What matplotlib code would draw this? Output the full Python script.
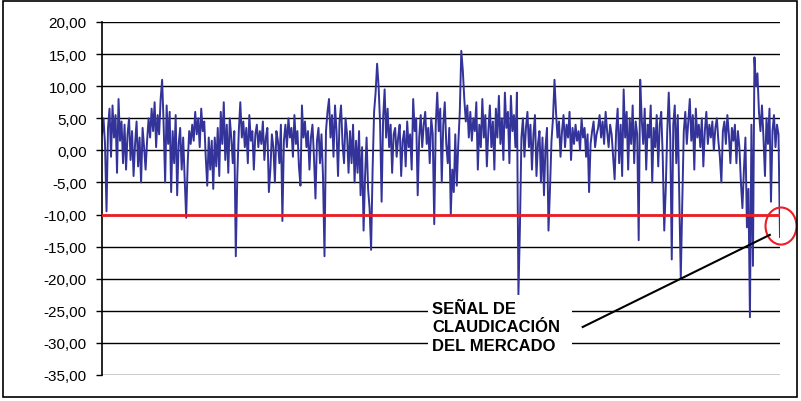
import numpy as np
import matplotlib
matplotlib.use('Agg')
import matplotlib.pyplot as plt
from matplotlib.patches import Ellipse, Rectangle

plt.rcParams['font.family'] = ['Liberation Sans', 'DejaVu Sans']

# serie (aprox. 1,5 px por punto)
serie = [
    2.5, 5.0, 1.0, -9.5, 3.5, 6.5, -1.0, 7.0, 2.0, 5.5, -3.5, 8.0, 1.5, 4.5, -2.0,
    4.0, -3.0, 2.5, 5.0, -1.5, 3.0, -4.0, 1.0, 4.5, -2.5, 2.0, -5.0, 3.5, 0.5, -3.0,
    1.5, 5.0, 2.0, 6.5, 3.0, 7.5, 0.5, 5.5, 2.5, 8.0, 11.0, 4.0, -5.0, 7.0, 1.0,
    6.0, -6.5, 3.0, -2.0, 5.5, -7.0, 1.0, 3.5, -3.0, 2.0, -4.5, -10.5, -2.0, 3.0, 1.0,
    4.0, 1.5, 6.0, 2.5, 5.0, 0.5, 6.5, 3.0, 4.5, -1.0, -5.5, 2.0, -3.0, 1.5, -6.0,
    2.0, -2.5, 3.5, -4.0, 6.0, 1.0, 7.5, -1.5, 4.0, -3.5, 5.0, 2.0, -2.0, 3.0, -16.5,
    -4.0, 3.0, 7.5, 2.0, 4.5, 0.5, 3.5, -2.0, 5.5, 1.5, 3.0, -3.0, 2.5, 4.0, 0.5,
    3.0, 1.0, 4.5, -1.5, 2.0, 3.5, -6.5, -3.0, 2.5, 0.5, -5.0, 3.0, 1.5, -2.0, 4.0,
    -11.0, 1.5, 4.0, 0.5, 5.0, 2.0, 3.5, -1.0, 5.5, 1.0, 3.0, -2.5, -5.5, 7.0, 2.0,
    4.5, 0.5, 3.0, -3.0, 2.0, 4.0, -1.0, -7.5, 1.5, 3.5, -2.0, 2.5, -4.0, -16.5, 3.0,
    6.0, 8.0, 2.0, 5.5, -1.0, 7.0, 3.0, -4.0, 4.5, 7.0, 1.0, -2.0, 5.0, 2.5, -3.5,
    3.0, -2.0, 4.0, -5.0, 1.5, -3.5, 3.0, -7.0, 0.5, -12.5, -4.0, 2.0, -6.0, -9.0, -15.5,
    -3.0, 6.0, 9.0, 13.5, 10.0, 4.0, -8.0, 5.0, 9.5, 2.0, 6.5, 0.5, 4.0, -3.5, 2.5,
    3.5, -1.0, 2.0, 4.0, -4.0, 1.5, 3.0, -2.5, 4.5, 0.5, 2.5, -3.0, 8.0, 3.0, 5.0,
    -7.0, 2.0, 5.5, 0.5, 4.0, 6.0, 1.0, 3.5, -2.0, 5.0, 2.5, -11.5, 4.0, 9.0, 3.0,
    6.5, -5.0, 4.0, 7.5, 1.0, -2.0, 3.5, -10.0, -3.0, -6.5, 2.5, -5.5, 1.0, 6.0, 15.5,
    12.5, 8.0, 4.5, 7.0, 2.0, 6.0, 1.5, 5.0, 3.0, 7.5, -3.0, 4.0, 0.5, 8.0, 2.0,
    5.5, -2.5, 3.0, 7.0, 0.5, 4.5, -3.0, 6.5, 2.0, 8.5, 1.0, 5.0, -1.5, 9.0, 3.5,
    6.0, -2.0, 8.5, 3.0, 5.5, 0.5, 9.0, -22.5, -12.0, 2.0, 5.0, -1.0, 3.5, 6.0, 0.5,
    4.0, -3.0, 2.5, 5.5, -4.0, 1.0, 3.0, -5.0, 2.0, -7.0, 0.5, 3.5, -12.5, -6.0, 1.5,
    5.0, 11.0, 6.0, 2.0, 4.5, -1.0, 3.0, 5.5, 0.5, 4.0, 2.0, 6.0, -1.5, 3.5, 1.0,
    4.0, 1.5, 3.0, 0.0, 5.0, 2.0, 3.5, -1.0, 2.5, -6.5, 1.0, 3.0, 4.5, 0.5, 2.5,
    3.5, 5.5, 2.0, 4.5, 1.0, 6.0, 3.0, 0.5, 4.0, 2.5, -1.0, -4.5, 3.0, 6.5, -2.0,
    4.0, -4.0, 9.5, 2.0, 6.0, -3.0, 5.0, 1.0, 7.0, -2.0, 4.5, 2.5, -14.0, 11.0, 5.0,
    1.0, 6.5, -3.0, 4.0, 2.0, 7.0, -5.0, 3.5, 0.5, 5.5, -2.5, 4.0, 6.0, -1.0, -12.5,
    -6.0, 3.0, 9.0, 2.0, -17.0, 4.0, 7.0, -2.0, 5.5, -7.0, -20.0, -8.0, 3.0, 6.0, 1.0,
    4.5, 8.0, 1.5, 5.5, -3.0, 6.5, 2.0, 4.0, 0.5, 5.0, -2.5, 3.0, 6.0, 1.0, 4.0,
    2.0, 4.5, 0.0, 3.5, 5.0, 1.5, -1.0, -5.0, 3.0, 4.5, 1.0, 5.5, 2.5, -2.0, 3.5,
    1.5, 4.0, -2.0, 3.0, 0.5, -5.0, -9.0, -3.0, 2.0, -12.0, -6.0, -26.0, 4.0, -18.0, 14.5,
    10.0, 12.0, 6.0, 3.0, 7.0, 2.0, -4.0, 5.0, 1.0, 6.5, -8.0, 3.0, 5.5, 0.5, 4.0,
    2.5, -13.5,
]

umbral = -10
y_ticks = [20, 15, 10, 5, 0, -5, -10, -15, -20, -25, -30, -35]
y_labels = ['20,00', '15,00', '10,00', '5,00', '0,00', '-5,00', '-10,00',
            '-15,00', '-20,00', '-25,00', '-30,00', '-35,00']
texto = 'SEÑAL DE\nCLAUDICACIÓN\nDEL MERCADO'

fig = plt.figure(figsize=(8.01, 4.02), dpi=100)
ax = fig.add_axes([102 / 801, 26 / 402, 678 / 801, 353 / 402])

x = np.arange(len(serie))
for t in y_ticks:
    ax.axhline(t, color='black', lw=1.0, zorder=1)
ax.plot(x, serie, color='#333399', lw=1.4, zorder=2)
ax.axhline(umbral, color='#ee1c24', lw=2.0, zorder=3)

ax.set_xlim(0, len(serie) - 1)
ax.set_ylim(-35, 20)
ax.set_yticks(y_ticks)
ax.set_yticklabels(y_labels, fontsize=11)
ax.set_xticks([])
ax.tick_params(axis='y', length=4, width=1, pad=7, direction='out')
for s in ['top', 'right', 'bottom']:
    ax.spines[s].set_visible(False)
ax.spines['left'].set_linewidth(1.2)

# senal marcada en rojo y flecha
ax.add_patch(Ellipse((1.0015, 0.422), 0.0457, 0.105, transform=ax.transAxes,
                     fill=False, edgecolor='#ee1c24', lw=1.5, clip_on=False, zorder=5))
ax.plot([0.709, 0.985], [0.136, 0.397], transform=ax.transAxes, color='black',
        lw=1.5, clip_on=False, zorder=5)
# cuadro de texto blanco
ax.add_patch(Rectangle((0.481, 0.045), 0.212, 0.182, transform=ax.transAxes,
                       facecolor='white', edgecolor='none', zorder=4))
ax.text(0.487, 0.136, texto, transform=ax.transAxes, fontsize=12, fontweight='bold',
        va='center', ha='left', linespacing=1.3, zorder=6)

# marco exterior
fig.patches.append(Rectangle((3 / 801, 4 / 402), 794 / 801, 396 / 402, transform=fig.transFigure,
                             fill=False, edgecolor='black', lw=1.2))

fig.savefig('out.png', dpi=100)
